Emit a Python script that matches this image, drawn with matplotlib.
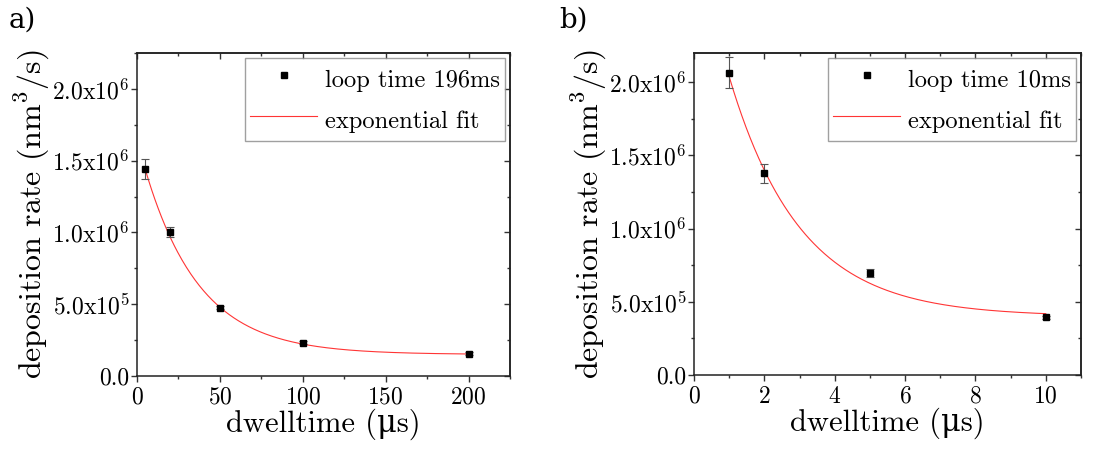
import numpy as np
import matplotlib
matplotlib.use("Agg")
import matplotlib.pyplot as plt
from matplotlib.ticker import MultipleLocator, FixedLocator, FixedFormatter

plt.rcParams['font.family'] = ['cmr10', 'DejaVu Serif']
plt.rcParams['mathtext.fontset'] = 'cm'
plt.rcParams['axes.unicode_minus'] = False
plt.rcParams['axes.formatter.use_mathtext'] = True

# panel a) loop time 196 ms
dwell_a = [5, 20, 50, 100, 200]
rate_a = [1.443e6, 1.006e6, 0.476e6, 0.232e6, 0.155e6]
err_a = [0.07e6, 0.035e6, 0.012e6, 0.01e6, 0.01e6]
fit_a = dict(y0=0.15e6, A=1.50e6, t=33.0)  # y0 + A*exp(-x/t)

# panel b) loop time 10 ms
dwell_b = [1, 2, 5, 10]
rate_b = [2.066e6, 1.378e6, 0.697e6, 0.395e6]
err_b = [0.104e6, 0.066e6, 0.03e6, 0.01e6]
fit_b = dict(y0=0.40e6, A=2.69e6, t=2.02)

ytick_vals = [0, 0.5e6, 1.0e6, 1.5e6, 2.0e6]
ytick_labels = ['0.0', '5.0x10$^5$', '1.0x10$^6$', '1.5x10$^6$', '2.0x10$^6$']


def draw_panel(ax, x, y, err, fit, label, xlim, ylim, xmajor, xminor):
    pts = ax.errorbar(x, y, yerr=err, fmt='s', color='black', markersize=5,
                      ecolor='#555555', elinewidth=0.8, capsize=3, capthick=0.8,
                      zorder=3)
    xs = np.linspace(x[0], x[-1], 300)
    line, = ax.plot(xs, fit['y0'] + fit['A'] * np.exp(-xs / fit['t']),
                    color='#ff3535', lw=0.8, zorder=2)
    ax.set_xlim(*xlim)
    ax.set_ylim(*ylim)
    ax.xaxis.set_major_locator(MultipleLocator(xmajor))
    ax.xaxis.set_minor_locator(MultipleLocator(xminor))
    ax.yaxis.set_major_locator(FixedLocator(ytick_vals))
    ax.yaxis.set_major_formatter(FixedFormatter(ytick_labels))
    ax.yaxis.set_minor_locator(MultipleLocator(0.25e6))
    ax.tick_params(which='both', direction='out', labelsize=17, color='#333333')
    ax.tick_params(which='major', length=4.5, width=1)
    ax.tick_params(which='minor', length=2.5, width=1)
    ax.tick_params(axis='x', pad=3)
    ax.tick_params(axis='y', pad=1)
    # mirrored ticks pointing inwards on top and right
    top = ax.secondary_xaxis('top')
    top.xaxis.set_major_locator(MultipleLocator(xmajor))
    top.xaxis.set_minor_locator(MultipleLocator(xminor))
    top.tick_params(which='both', direction='in', labeltop=False, color='#333333')
    top.tick_params(which='major', length=4.5, width=1)
    top.tick_params(which='minor', length=2.5, width=1)
    right = ax.secondary_yaxis('right')
    right.yaxis.set_major_locator(FixedLocator(ytick_vals))
    right.yaxis.set_minor_locator(MultipleLocator(0.25e6))
    right.tick_params(which='both', direction='in', labelright=False, color='#333333')
    right.tick_params(which='major', length=4.5, width=1)
    right.tick_params(which='minor', length=2.5, width=1)
    for s in list(ax.spines.values()) + [top.spines['top'], right.spines['right']]:
        s.set_linewidth(1.1)
        s.set_color('#222222')
    ax.set_xlabel('dwelltime (\u03bcs)', fontsize=22, labelpad=0)
    ax.set_ylabel('deposition rate (nm$^3$/s)', fontsize=23, labelpad=0)
    # legend shows only the square marker for the data
    leg = ax.legend([pts[0], line], [label, 'exponential fit'], loc='upper right',
                    fontsize=17.6, frameon=True, fancybox=False,
                    edgecolor='#888888', markerscale=0.8, handlelength=2.75,
                    handleheight=1.65, borderaxespad=0.2, borderpad=0.2,
                    labelspacing=0.35, handletextpad=0.33)
    leg.get_frame().set_linewidth(1.0)


fig = plt.figure(figsize=(11.01, 4.5), dpi=100)
ax1 = fig.add_axes([0.1244, 0.1644, 0.3388, 0.7178])
ax2 = fig.add_axes([0.6303, 0.1667, 0.3515, 0.7155])

draw_panel(ax1, dwell_a, rate_a, err_a, fit_a, 'loop time 196ms',
           (0, 225), (0, 2.25e6), 50, 25)
draw_panel(ax2, dwell_b, rate_b, err_b, fit_b, 'loop time 10ms',
           (0, 11), (0, 2.2e6), 2, 1)

fig.text(0.008, 0.955, 'a)', fontsize=20, family='DejaVu Serif', va='center')
fig.text(0.508, 0.955, 'b)', fontsize=20, family='DejaVu Serif', va='center')

fig.savefig('out.png', dpi=100)
